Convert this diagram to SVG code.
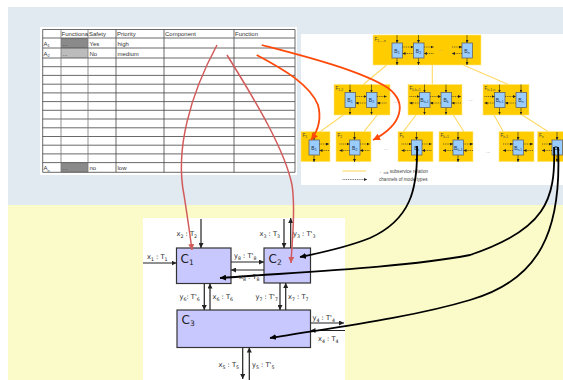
<svg xmlns="http://www.w3.org/2000/svg" xmlns:xlink="http://www.w3.org/1999/xlink" width="563" height="380" viewBox="0 0 563 380">
<style>
.tb{font-family:"Liberation Sans",Arial,sans-serif;font-size:6px;fill:#333}
.grid{stroke:#444;stroke-width:0.8;fill:none}
.fbox{fill:#ffcc00;stroke:#ffe680;stroke-width:0.6}
.blk{fill:#99ccff;stroke:#666;stroke-width:0.8}
.va{stroke:#222;stroke-width:0.6;marker-end:url(#ms)}
.dot{stroke:#333;stroke-width:0.7;stroke-dasharray:1 0.8;fill:none;marker-end:url(#ms)}
.sub{stroke:#ffd966;stroke-width:1.1;fill:none}
.fl{font-family:"Liberation Sans",Arial,sans-serif;font-size:4.6px;fill:#444}
.bl{font-family:"Liberation Sans",Arial,sans-serif;font-size:5px;fill:#234;text-anchor:middle}
.ell{font-family:"Liberation Sans",Arial,sans-serif;font-size:5px;fill:#999}
.cbox{fill:#c8c8ff;stroke:#333;stroke-width:1.2}
.ca{stroke:#222;stroke-width:1.2;fill:none;marker-end:url(#mb)}
.cl{font-family:"DejaVu Sans",Verdana,sans-serif;font-size:6.7px;fill:#222}
.cn{font-family:"DejaVu Sans",Verdana,sans-serif;font-size:12px;fill:#222}
.red{stroke:#d35a5a;stroke-width:1.5;fill:none;marker-end:url(#mr)}
.org{stroke:#ff4a0a;stroke-width:1.8;fill:none;marker-end:url(#mo)}
.blkc{stroke:#000;stroke-width:1.8;fill:none;marker-end:url(#mk)}
</style>
<defs>
<marker id="ms" markerUnits="userSpaceOnUse" markerWidth="3" markerHeight="3" refX="3" refY="1.5" orient="auto"><path d="M0,0 L3,1.5 L0,3 z" fill="#222"/></marker>
<marker id="mb" markerUnits="userSpaceOnUse" markerWidth="5" markerHeight="5" refX="5" refY="2.5" orient="auto"><path d="M0,0 L5,2.5 L0,5 z" fill="#222"/></marker>
<marker id="mr" markerUnits="userSpaceOnUse" markerWidth="6" markerHeight="6" refX="6" refY="3" orient="auto"><path d="M0,0 L6,3 L0,6 z" fill="#d35a5a"/></marker>
<marker id="mo" markerUnits="userSpaceOnUse" markerWidth="7" markerHeight="7" refX="7" refY="3.5" orient="auto"><path d="M0,0 L7,3.5 L0,7 z" fill="#ff4a0a"/></marker>
<marker id="mk" markerUnits="userSpaceOnUse" markerWidth="6" markerHeight="6" refX="6" refY="3" orient="auto"><path d="M0,0 L6,3 L0,6 z" fill="#000"/></marker>
<g id="bb"><line class="va" x1="5" y1="-8" x2="5" y2="0"/><line class="va" x1="5" y1="15" x2="5" y2="22"/><rect class="blk" x="0" y="0" width="10.5" height="15"/></g>
<g id="sl"><line class="dot" x1="-10" y1="4" x2="0" y2="4"/><line class="dot" x1="0" y1="10.5" x2="-10" y2="10.5"/></g>
<g id="sr"><line class="dot" x1="10.5" y1="4" x2="20" y2="4"/><line class="dot" x1="20" y1="10.5" x2="10.5" y2="10.5"/></g>
<g id="bt"><line class="dot" x1="10.5" y1="4" x2="21.5" y2="4"/><line class="dot" x1="21.5" y1="10.5" x2="10.5" y2="10.5"/></g>
</defs>

<!-- backgrounds -->
<rect x="0" y="0" width="563" height="380" fill="#fff"/>
<rect x="8" y="7" width="555" height="198" fill="#e1e9f1"/>
<rect x="8" y="205" width="555" height="175" fill="#fbfbca"/>

<!-- table -->
<g id="table">
<rect x="40" y="27" width="257" height="148" fill="#fff"/>
<rect x="61" y="38" width="27" height="10" fill="#8a8a8a"/>
<rect x="61" y="48" width="27" height="10" fill="#bcbcbc"/>
<rect x="61" y="162.6" width="27" height="9.7" fill="#8a8a8a"/>
<g class="grid">
<path d="M42.7,29.5H295M42.7,38H295M42.7,48H295M42.7,58H295M42.7,66.7H295M42.7,75.4H295M42.7,84.2H295M42.7,92.9H295M42.7,101.6H295M42.7,110.3H295M42.7,119H295M42.7,127.8H295M42.7,136.5H295M42.7,145.2H295M42.7,153.9H295M42.7,162.6H295M42.7,172.3H295"/>
<path d="M42.7,29.5V172.3M116,29.5V172.3M164,29.5V172.3M234,29.5V172.3M295,29.5V172.3"/>
<path d="M61,29.5V172.3M88,29.5V172.3" stroke="#777"/>
</g>
<text class="tb" x="61.6" y="36.3" textLength="26.4" lengthAdjust="spacingAndGlyphs">Functiona</text>
<text class="tb" x="89" y="36.3">Safety</text>
<text class="tb" x="117" y="36.3">Priority</text>
<text class="tb" x="165" y="36.3">Component</text>
<text class="tb" x="235" y="36.3">Function</text>
<text class="tb" x="43.5" y="46">A<tspan font-size="4" dy="1.2">1</tspan></text>
<text class="tb" x="62.5" y="46">...</text>
<text class="tb" x="89.5" y="46">Yes</text>
<text class="tb" x="117.5" y="46">high</text>
<text class="tb" x="43.5" y="56">A<tspan font-size="4" dy="1.2">2</tspan></text>
<text class="tb" x="62.5" y="56">...</text>
<text class="tb" x="89.5" y="56">No</text>
<text class="tb" x="117.5" y="56">medium</text>
<text class="tb" x="43.5" y="170.3">A<tspan font-size="4" dy="1.2">n</tspan></text>
<text class="tb" x="62.5" y="170.3">...</text>
<text class="tb" x="89.5" y="170.3">no</text>
<text class="tb" x="117.5" y="170.3">low</text>
</g>

<!-- hierarchy panel -->
<g id="hierarchy">
<rect x="301" y="34" width="262" height="151" fill="#fff"/>
<g id="sublines">
<path class="sub" d="M386.7,65L363.3,84.5M432.3,65V84.5M463.3,65L508.3,84.5"/>
<path class="sub" d="M343.3,115L320,131.7M377.3,115L364,131.7M416,115L403.3,131.7M453.3,115L464,131.7M494,115L503.3,131.7M522.3,115L548.3,131.7"/>
</g>

<g id="F1n">
<rect class="fbox" x="373" y="35" width="108" height="30"/>
<text class="fl" x="374.5" y="40.5">F<tspan font-size="3.4" dy="1">1,...,n</tspan></text>
<use xlink:href="#bb" x="392" y="43"/><use xlink:href="#bt" x="392" y="43"/>
<use xlink:href="#bb" x="413.5" y="43"/><use xlink:href="#sr" x="413.5" y="43"/>
<use xlink:href="#bb" x="462" y="43"/><use xlink:href="#sl" x="462" y="43"/>
<text class="bl" x="397" y="52.5">B<tspan font-size="3.5" dy="1">1</tspan></text>
<text class="bl" x="418.5" y="52.5">B<tspan font-size="3.5" dy="1">2</tspan></text>
<text class="bl" x="467" y="52.5">B<tspan font-size="3.5" dy="1">n</tspan></text>
<text class="ell" x="438.5" y="51">...</text>
</g>

<g id="F12">
<rect class="fbox" x="334" y="84.5" width="56" height="30.5"/>
<text class="fl" x="335.5" y="90">F<tspan font-size="3.4" dy="1">1,2</tspan></text>
<use xlink:href="#bb" x="345" y="92.5"/><use xlink:href="#bt" x="345" y="92.5"/>
<use xlink:href="#bb" x="366.5" y="92.5"/><use xlink:href="#sr" x="366.5" y="92.5"/>
<text class="bl" x="350" y="102">B<tspan font-size="3.5" dy="1">1</tspan></text>
<text class="bl" x="371.5" y="102">B<tspan font-size="3.5" dy="1">2</tspan></text>
</g>
<g id="Fkk1">
<rect class="fbox" x="408" y="84.5" width="54" height="30.5"/>
<text class="fl" x="409.5" y="90">F<tspan font-size="3.4" dy="1">k,k+1</tspan></text>
<use xlink:href="#bb" x="419.5" y="92.5"/><use xlink:href="#sl" x="419.5" y="92.5"/><use xlink:href="#bt" x="419.5" y="92.5"/>
<use xlink:href="#bb" x="441" y="92.5"/><use xlink:href="#sr" x="441" y="92.5"/>
<text class="bl" x="424.5" y="102">B<tspan font-size="3" dy="1">k+1</tspan></text>
<text class="bl" x="446" y="102">B<tspan font-size="3.5" dy="1">k</tspan></text>
</g>
<g id="Fn1n">
<rect class="fbox" x="483" y="84.5" width="46" height="30.5"/>
<text class="fl" x="484.5" y="90">F<tspan font-size="3.4" dy="1">n-1,n</tspan></text>
<use xlink:href="#bb" x="494.5" y="92.5"/><use xlink:href="#sl" x="494.5" y="92.5"/><use xlink:href="#bt" x="494.5" y="92.5"/>
<use xlink:href="#bb" x="516" y="92.5"/>
<text class="bl" x="499.5" y="102">B<tspan font-size="3" dy="1">n-1</tspan></text>
<text class="bl" x="521" y="102">B<tspan font-size="3.5" dy="1">n</tspan></text>
</g>
<text class="ell" x="393.5" y="103">...</text>
<text class="ell" x="468.5" y="101">...</text>

<g id="F1">
<rect class="fbox" x="301" y="131.7" width="29" height="30"/>
<text class="fl" x="302.5" y="137.2">F<tspan font-size="3.4" dy="1">1</tspan></text>
<use xlink:href="#bb" x="309" y="140"/><use xlink:href="#sr" x="309" y="140"/>
<text class="bl" x="314" y="149.5">B<tspan font-size="3.5" dy="1">1</tspan></text>
</g>
<g id="F2">
<rect class="fbox" x="336" y="131.7" width="35" height="30"/>
<text class="fl" x="337.5" y="137.2">F<tspan font-size="3.4" dy="1">2</tspan></text>
<use xlink:href="#bb" x="349.5" y="140"/><use xlink:href="#sl" x="349.5" y="140"/><use xlink:href="#sr" x="349.5" y="140"/>
<text class="bl" x="354.7" y="149.5">B<tspan font-size="3.5" dy="1">2</tspan></text>
</g>
<g id="Fk">
<rect class="fbox" x="398" y="131.7" width="35" height="30"/>
<text class="fl" x="399.5" y="137.2">F<tspan font-size="3.4" dy="1">k</tspan></text>
<use xlink:href="#bb" x="411.5" y="140"/><use xlink:href="#sl" x="411.5" y="140"/><use xlink:href="#sr" x="411.5" y="140"/>
<text class="bl" x="416.7" y="149.5">B<tspan font-size="3.5" dy="1">k</tspan></text>
</g>
<g id="Fk1">
<rect class="fbox" x="439" y="131.7" width="34" height="30"/>
<text class="fl" x="440.5" y="137.2">F<tspan font-size="3.4" dy="1">k+1</tspan></text>
<use xlink:href="#bb" x="453" y="140"/><use xlink:href="#sl" x="453" y="140"/><use xlink:href="#sr" x="453" y="140"/>
<text class="bl" x="458.2" y="149.5">B<tspan font-size="3" dy="1">k+1</tspan></text>
</g>
<g id="Fn1">
<rect class="fbox" x="499" y="131.7" width="35" height="30"/>
<text class="fl" x="500.5" y="137.2">F<tspan font-size="3.4" dy="1">n-1</tspan></text>
<use xlink:href="#bb" x="513" y="140"/><use xlink:href="#sl" x="513" y="140"/><use xlink:href="#sr" x="513" y="140"/>
<text class="bl" x="518.2" y="149.5">B<tspan font-size="3" dy="1">n-1</tspan></text>
</g>
<g id="Fn">
<rect class="fbox" x="537.5" y="131.7" width="26" height="30"/>
<text class="fl" x="539" y="137.2">F<tspan font-size="3.4" dy="1">n</tspan></text>
<use xlink:href="#bb" x="552" y="140"/><use xlink:href="#sl" x="552" y="140"/>
<text class="bl" x="557.2" y="149.5">B<tspan font-size="3.5" dy="1">n</tspan></text>
</g>
<text class="ell" x="383.5" y="150">...</text>
<text class="ell" x="486" y="153">...</text>

<g id="legend">
<line class="sub" x1="342.5" y1="171" x2="366" y2="171" stroke-width="1.5"/>
<text class="fl" x="379" y="172.5" font-size="4.2">←<tspan font-size="3" dy="1">sub</tspan><tspan dy="-1"> subservice relation</tspan></text>
<line class="dot" x1="342.5" y1="179.5" x2="367" y2="179.5"/>
<text class="fl" x="379" y="181" font-size="4.2">channels of mode types</text>
</g>
</g>

<!-- component diagram -->
<g id="cpanel">
<rect x="143" y="218" width="202" height="162" fill="#fff"/>
</g>
<g id="C1"><rect class="cbox" x="176.5" y="248" width="54.5" height="35.5"/><text class="cn" x="180.5" y="262.5">C<tspan font-size="7.5" dy="2">1</tspan></text></g>
<g id="C2"><rect class="cbox" x="264" y="248" width="46.5" height="35"/><text class="cn" x="268.5" y="262.5">C<tspan font-size="7.5" dy="2">2</tspan></text></g>
<g id="C3"><rect class="cbox" x="177" y="310" width="133.5" height="37.5"/><text class="cn" x="181.5" y="324">C<tspan font-size="7.5" dy="2">3</tspan></text></g>

<g id="connectors">
<path class="ca" d="M143,263H176.5"/>
<path class="ca" d="M201,219V248"/>
<path class="ca" d="M284,219V248"/>
<path class="ca" d="M290.7,248V218"/>
<path class="ca" d="M231,262H264"/>
<path class="ca" d="M264,270H231"/>
<path class="ca" d="M204.3,283.5V310"/>
<path class="ca" d="M210,310V283.5"/>
<path class="ca" d="M280,283V310"/>
<path class="ca" d="M285.7,310V283"/>
<path class="ca" d="M310.5,323H344"/>
<path class="ca" d="M345,330.5H310.5"/>
<path class="ca" d="M242.7,347.5V379"/>
<path class="ca" d="M249.3,380V347.5"/>

<path class="red" d="M217,45C190,95 175,150 184,195C188,220 190,235 192,250"/>
<path class="red" d="M227,55C255,100 285,150 292,185C296,210 292,240 291,263"/>
<path class="org" d="M261.7,45C300,55 360,70 388,88C408,103 402,125 373,140"/>
<path class="org" d="M256.7,55C285,70 310,85 318,105C322,120 317,132 311,140"/>
<path class="blkc" d="M417,146C418,190 410,220 370,238C345,248 320,253 300,257"/>
<path class="blkc" d="M554,147C556,200 545,230 470,255C400,268 300,272 220,278"/>
<path class="blkc" d="M558,147C562,230 540,280 470,300C410,318 330,328 270,338"/>
</g>

<g id="clabels">
<text class="cl" x="147" y="259">x<tspan font-size="4.7" dy="1.5">1</tspan><tspan dy="-1.5"> : T</tspan><tspan font-size="4.7" dy="1.5">1</tspan></text>
<text class="cl" x="176.5" y="236">x<tspan font-size="4.7" dy="1.5">2</tspan><tspan dy="-1.5"> : T</tspan><tspan font-size="4.7" dy="1.5">2</tspan></text>
<text class="cl" x="259.5" y="236">x<tspan font-size="4.7" dy="1.5">3</tspan><tspan dy="-1.5"> : T</tspan><tspan font-size="4.7" dy="1.5">3</tspan></text>
<text class="cl" x="293" y="236">y<tspan font-size="4.7" dy="1.5">3</tspan><tspan dy="-1.5"> : T'</tspan><tspan font-size="4.7" dy="1.5">3</tspan></text>
<text class="cl" x="234" y="258">y<tspan font-size="4.7" dy="1.5">8</tspan><tspan dy="-1.5"> : T'</tspan><tspan font-size="4.7" dy="1.5">8</tspan></text>
<text class="cl" x="239" y="279">x<tspan font-size="4.7" dy="1.5">8</tspan><tspan dy="-1.5"> : T</tspan><tspan font-size="4.7" dy="1.5">8</tspan></text>
<text class="cl" x="179.5" y="299">y<tspan font-size="4.7" dy="1.5">6</tspan><tspan dy="-1.5">: T'</tspan><tspan font-size="4.7" dy="1.5">6</tspan></text>
<text class="cl" x="212.5" y="299">x<tspan font-size="4.7" dy="1.5">6</tspan><tspan dy="-1.5"> : T</tspan><tspan font-size="4.7" dy="1.5">6</tspan></text>
<text class="cl" x="255.5" y="299">y<tspan font-size="4.7" dy="1.5">7</tspan><tspan dy="-1.5"> : T'</tspan><tspan font-size="4.7" dy="1.5">7</tspan></text>
<text class="cl" x="288" y="299">x<tspan font-size="4.7" dy="1.5">7</tspan><tspan dy="-1.5"> : T</tspan><tspan font-size="4.7" dy="1.5">7</tspan></text>
<text class="cl" x="312.5" y="320">y<tspan font-size="4.7" dy="1.5">4</tspan><tspan dy="-1.5"> : T'</tspan><tspan font-size="4.7" dy="1.5">4</tspan></text>
<text class="cl" x="318" y="341">x<tspan font-size="4.7" dy="1.5">4</tspan><tspan dy="-1.5"> : T</tspan><tspan font-size="4.7" dy="1.5">4</tspan></text>
<text class="cl" x="218.5" y="367">x<tspan font-size="4.7" dy="1.5">5</tspan><tspan dy="-1.5"> : T</tspan><tspan font-size="4.7" dy="1.5">5</tspan></text>
<text class="cl" x="252" y="367">y<tspan font-size="4.7" dy="1.5">5</tspan><tspan dy="-1.5"> : T'</tspan><tspan font-size="4.7" dy="1.5">5</tspan></text>
</g>
</svg>
